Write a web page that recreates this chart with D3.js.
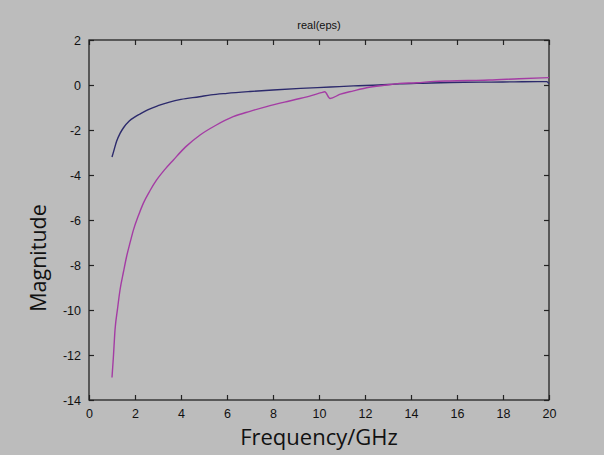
<!DOCTYPE html>
<html>
<head>
<meta charset="utf-8">
<script src="https://cdn.jsdelivr.net/npm/d3@7"></script>
<style>
  body { margin: 0; background: #bcbcbc; }
  svg { display: block; }
  .tick text { font-family: "Liberation Sans", Arial, sans-serif; font-size: 12.5px; fill: #111; }
</style>
</head>
<body>
<svg id="chart" width="604" height="455"></svg>
<script>
// frequency (GHz) and real part of eps
const blueFreq = [1, 1.1, 1.2, 1.35, 1.5, 1.75, 2, 2.2, 2.6, 3, 3.5, 4, 4.8, 5.3, 6, 7, 8, 9.2, 10.5, 11.5, 12.6, 13.5, 14.5, 15.7, 16.3, 17.5, 18.5, 19.5, 19.9, 20];
const blueVals = [-3.2, -2.85, -2.5, -2.15, -1.9, -1.6, -1.42, -1.3, -1.08, -0.92, -0.76, -0.64, -0.52, -0.44, -0.37, -0.29, -0.22, -0.15, -0.09, -0.04, 0.0, 0.05, 0.08, 0.11, 0.12, 0.13, 0.14, 0.15, 0.15, 0.06];

const magFreq = [1, 1.06, 1.13, 1.24, 1.35, 1.5, 1.64, 1.8, 1.93, 2.15, 2.36, 2.65, 2.94, 3.3, 3.67, 4.2, 4.83, 5.5, 6.27, 7, 7.72, 8.5, 9.17, 9.7, 10.1, 10.25, 10.48, 10.9, 11.5, 12.07, 12.94, 13.5, 14.25, 15, 15.7, 16.5, 17.4, 18.7, 20];
const magVals = [-13, -12.1, -10.9, -9.95, -9.1, -8.3, -7.6, -6.95, -6.45, -5.8, -5.26, -4.7, -4.22, -3.75, -3.33, -2.75, -2.22, -1.8, -1.41, -1.17, -0.96, -0.76, -0.6, -0.46, -0.34, -0.3, -0.6, -0.42, -0.26, -0.12, 0.0, 0.07, 0.1, 0.16, 0.18, 0.2, 0.22, 0.28, 0.33];

const xTicks = [0, 2, 4, 6, 8, 10, 12, 14, 16, 18, 20];
const yTicks = [-14, -12, -10, -8, -6, -4, -2, 0, 2];

const svg = d3.select("#chart");
const m = { left: 89, top: 40, right: 549, bottom: 400 };

const x = d3.scaleLinear().domain([0, 20]).range([m.left, m.right]);
const y = d3.scaleLinear().domain([-14, 2]).range([m.bottom, m.top]);

const plain = d => String(d); // keep ascii hyphen like the original

// bottom & left axes with inward ticks
svg.append("g")
  .attr("transform", `translate(0,${m.bottom})`)
  .call(d3.axisBottom(x).tickValues(xTicks).tickFormat(plain).tickSizeInner(-5).tickSizeOuter(0).tickPadding(9))
  .call(g => g.select(".domain").remove());
svg.append("g")
  .attr("transform", `translate(${m.left},0)`)
  .call(d3.axisLeft(y).tickValues(yTicks).tickFormat(plain).tickSizeInner(-5).tickSizeOuter(0).tickPadding(8))
  .call(g => g.select(".domain").remove());
// mirrored ticks top & right
svg.append("g")
  .attr("transform", `translate(0,${m.top})`)
  .call(d3.axisTop(x).tickValues(xTicks).tickSizeInner(-5).tickSizeOuter(0).tickFormat(""))
  .call(g => g.select(".domain").remove());
svg.append("g")
  .attr("transform", `translate(${m.right},0)`)
  .call(d3.axisRight(y).tickValues(yTicks).tickSizeInner(-5).tickSizeOuter(0).tickFormat(""))
  .call(g => g.select(".domain").remove());

svg.selectAll(".tick line").attr("stroke", "#222").attr("stroke-width", 1.2);

// box
svg.append("rect")
  .attr("x", m.left).attr("y", m.top)
  .attr("width", m.right - m.left).attr("height", m.bottom - m.top)
  .attr("fill", "none").attr("stroke", "#222").attr("stroke-width", 1.3);

const line = d3.line().x(d => x(d[0])).y(d => y(d[1])).curve(d3.curveMonotoneX);

svg.append("path")
  .datum(blueFreq.map((f, i) => [f, blueVals[i]]))
  .attr("fill", "none").attr("stroke", "#2c2a6c").attr("stroke-width", 1.4)
  .attr("d", line);
svg.append("path")
  .datum(magFreq.map((f, i) => [f, magVals[i]]))
  .attr("fill", "none").attr("stroke", "#a43ca4").attr("stroke-width", 1.4)
  .attr("d", line);

svg.append("text")
  .attr("x", (m.left + m.right) / 2).attr("y", 29)
  .attr("text-anchor", "middle")
  .style("font-family", "Liberation Sans, Arial, sans-serif").style("font-size", "11px")
  .attr("fill", "#111")
  .text("real(eps)");

svg.append("text")
  .attr("x", (m.left + m.right) / 2).attr("y", 445)
  .attr("text-anchor", "middle")
  .style("font-family", "Open Sans, sans-serif").style("font-size", "22px")
  .attr("fill", "#111")
  .text("Frequency/GHz");

svg.append("text")
  .attr("transform", "translate(46,258) rotate(-90)")
  .attr("text-anchor", "middle")
  .style("font-family", "Open Sans, sans-serif").style("font-size", "21.5px")
  .attr("fill", "#111")
  .text("Magnitude");
</script>
</body>
</html>
